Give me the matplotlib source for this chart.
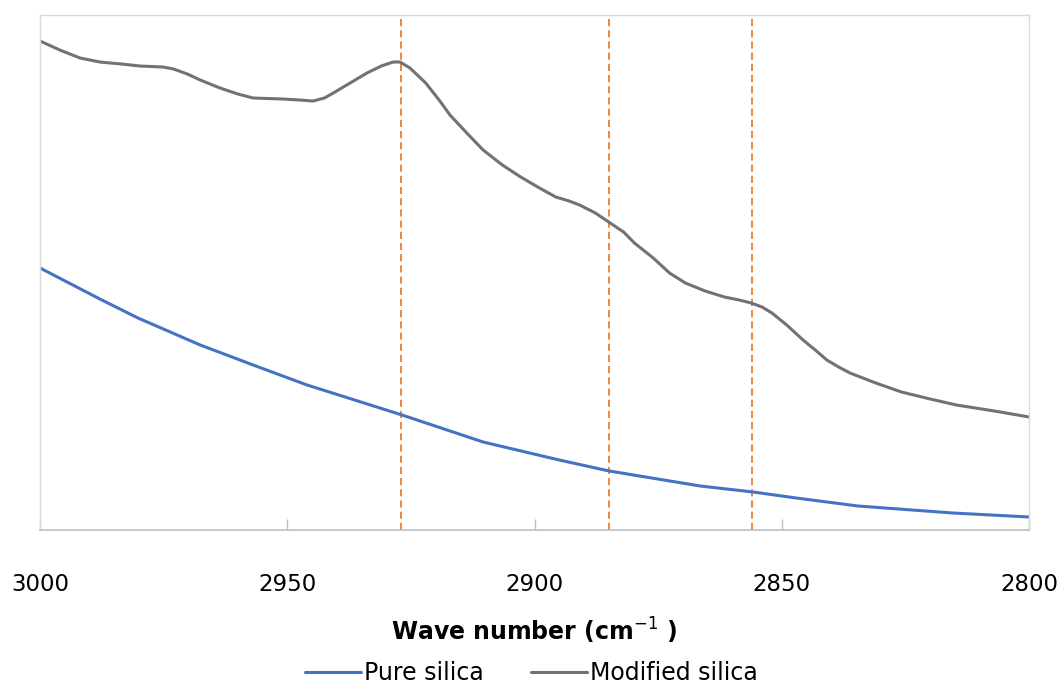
import matplotlib.pyplot as plt

# wavenumbers (cm-1) and absorbance (a.u.)
wn_pure = [3000, 2987.9, 2980.2, 2967.6, 2956.9, 2946.0, 2938.3, 2926.8, 2910.4,
           2895.0, 2884.9, 2866.5, 2855.8, 2847.1, 2834.6, 2815.4, 2800]
abs_pure = [2.62, 2.31, 2.12, 1.85, 1.65, 1.45, 1.33, 1.15, 0.88,
            0.70, 0.59, 0.44, 0.38, 0.32, 0.24, 0.17, 0.13]

wn_mod = [3000, 2996, 2991.9, 2987.9, 2983.5, 2979.8, 2975.1, 2973.0, 2970.2,
          2967.6, 2963.6, 2960.0, 2956.9, 2950.9, 2947.5, 2944.8, 2942.5, 2940.7,
          2937.3, 2933.9, 2931.0, 2928.6, 2927.2, 2925.2, 2922.0, 2919.3, 2917.1,
          2913.7, 2910.4, 2906.5, 2902.8, 2899.0, 2895.7, 2893.0, 2890.9, 2887.7,
          2884.7, 2882.0, 2879.8, 2876.0, 2872.7, 2869.5, 2865.5, 2861.6, 2858.6,
          2856.2, 2854.0, 2852.0, 2849.0, 2845.7, 2843.0, 2840.9, 2838.5, 2836.2,
          2831.0, 2825.8, 2820.0, 2814.7, 2807.0, 2800]
abs_mod = [4.89, 4.80, 4.72, 4.68, 4.66, 4.64, 4.63, 4.61, 4.56,
           4.50, 4.42, 4.36, 4.32, 4.31, 4.30, 4.29, 4.32, 4.37,
           4.47, 4.57, 4.64, 4.68, 4.68, 4.62, 4.47, 4.30, 4.15,
           3.97, 3.80, 3.65, 3.53, 3.42, 3.33, 3.29, 3.25, 3.17,
           3.07, 2.98, 2.87, 2.72, 2.57, 2.47, 2.39, 2.33, 2.30,
           2.27, 2.23, 2.17, 2.05, 1.90, 1.79, 1.70, 1.63, 1.57,
           1.47, 1.38, 1.31, 1.25, 1.19, 1.13]

peaks = [2927, 2885, 2856]
xticks = [3000, 2950, 2900, 2850, 2800]

plt.rcParams['font.family'] = ['DejaVu Sans']

fig = plt.figure(figsize=(10.62, 6.86), dpi=100)
ax = fig.add_axes([0.0377, 0.2274, 0.9313, 0.7507])

ax.plot(wn_pure, abs_pure, color='#4472C4', lw=2.2, label='Pure silica',
        solid_capstyle='round', solid_joinstyle='round')
ax.plot(wn_mod, abs_mod, color='#767171', lw=2.2, label='Modified silica',
        solid_capstyle='round', solid_joinstyle='round')

for p in peaks:
    ax.axvline(p, color='#ED7D31', lw=1.3, dashes=(4.0, 2.2), zorder=1)

ax.set_xlim(3000, 2800)
ax.set_ylim(0, 5.15)
ax.set_yticks([])
ax.set_xticks(xticks)
ax.tick_params(axis='x', direction='in', length=8, width=1, color='#BFBFBF',
               pad=31, labelsize=16.5, labelcolor='black')

for side in ['top', 'left', 'right']:
    ax.spines[side].set_color('#D9D9D9')
    ax.spines[side].set_linewidth(1)
ax.spines['bottom'].set_color('#BFBFBF')
ax.spines['bottom'].set_linewidth(1.2)

ax.set_xlabel(r'Wave number (cm$^{-1}$ )', fontsize=17,
              fontweight='bold', labelpad=14)

fig.legend(loc='lower center', bbox_to_anchor=(0.5, -0.03), ncol=2,
           frameon=False, fontsize=17, handlelength=2.4, handletextpad=0.1,
           columnspacing=2.0)

fig.savefig('out.png', dpi=100)
